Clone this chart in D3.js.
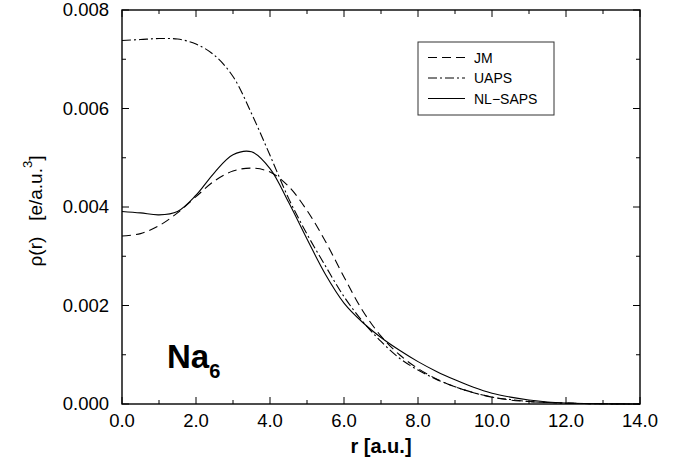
<!DOCTYPE html>
<html>
<head>
<meta charset="utf-8">
<script src="https://cdn.jsdelivr.net/npm/d3@7"></script>
<style>
  body { margin: 0; background: #fff; }
  text { font-family: "Liberation Sans", Arial, sans-serif; }
</style>
</head>
<body>
<div id="chart"></div>
<script>
// radial grid (a.u.)
const rValues = [0, 0.5, 1, 1.5, 2, 2.5, 3, 3.5, 4, 4.5, 5, 5.5, 6, 6.5, 7, 7.5, 8, 8.5, 9, 9.5, 10, 10.5, 11, 11.5, 12, 12.5, 13, 13.5, 14];
const jmValues = [0.00341, 0.00346, 0.00362, 0.00388, 0.00421, 0.00453, 0.00473, 0.00479, 0.00471, 0.00442, 0.00393, 0.00330, 0.00258, 0.00190, 0.00138, 0.00100, 0.00072, 0.00051, 0.00035, 0.00023, 0.00014, 0.00008, 0.00005, 0.00003, 0.00002, 0.00001, 0.000005, 0.000002, 0];
const uapsValues = [0.00738, 0.00740, 0.00742, 0.00741, 0.00731, 0.00708, 0.00665, 0.00590, 0.00505, 0.00418, 0.00345, 0.00280, 0.00218, 0.00168, 0.00127, 0.00093, 0.00069, 0.00050, 0.00035, 0.00023, 0.00014, 0.00009, 0.00005, 0.00003, 0.000015, 0.00001, 0.000005, 0.000002, 0];
const nlsapsValues = [0.00391, 0.00388, 0.00384, 0.00391, 0.00424, 0.00470, 0.00506, 0.00512, 0.00478, 0.00410, 0.00335, 0.00263, 0.00205, 0.00166, 0.00135, 0.00109, 0.00086, 0.00066, 0.00049, 0.00034, 0.00022, 0.00014, 0.00008, 0.00004, 0.00002, 0.00001, 0.000005, 0.000002, 0];

const seriesNames = ["JM", "UAPS", "NL\u2212SAPS"];
const xTicks = [0, 2, 4, 6, 8, 10, 12, 14];
const yTicks = [0, 0.002, 0.004, 0.006, 0.008];

const width = 675, height = 466;
const margin = { left: 122, right: 35, top: 10, bottom: 62 };

const series = [
    { name: seriesNames[0], values: jmValues, dash: "9,5" },
    { name: seriesNames[1], values: uapsValues, dash: "9,3,2,3" },
    { name: seriesNames[2], values: nlsapsValues, dash: null }
];

const svg = d3.select("#chart")
    .append("svg")
    .attr("width", width)
    .attr("height", height);

const x = d3.scaleLinear().domain([0, 14]).range([margin.left, width - margin.right]);
const y = d3.scaleLinear().domain([0, 0.008]).range([height - margin.bottom, margin.top]);

const x0 = x(0), x1 = x(14), y0 = y(0), y1 = y(0.008);

// ticks on all four sides, pointing inward
const minorX = d3.range(0, 15, 1);
const minorY = d3.range(0, 0.0081, 0.001);

const tickG = svg.append("g").attr("stroke", "#000").attr("stroke-width", 1);
minorX.forEach(v => {
    const len = v % 2 === 0 ? 7 : 4;
    tickG.append("line").attr("x1", x(v)).attr("x2", x(v)).attr("y1", y0).attr("y2", y0 - len);
    tickG.append("line").attr("x1", x(v)).attr("x2", x(v)).attr("y1", y1).attr("y2", y1 + len);
});
minorY.forEach((v, i) => {
    const len = i % 2 === 0 ? 7 : 4;
    tickG.append("line").attr("x1", x0).attr("x2", x0 + len).attr("y1", y(v)).attr("y2", y(v));
    tickG.append("line").attr("x1", x1).attr("x2", x1 - len).attr("y1", y(v)).attr("y2", y(v));
});

// frame
svg.append("rect")
    .attr("x", x0).attr("y", y1)
    .attr("width", x1 - x0).attr("height", y0 - y1)
    .attr("fill", "none")
    .attr("stroke", "#000")
    .attr("stroke-width", 1.4);

// tick labels
svg.selectAll(".xlab")
    .data(xTicks)
    .enter()
    .append("text")
    .attr("x", d => x(d))
    .attr("y", y0 + 23)
    .attr("text-anchor", "middle")
    .style("font-size", "18.5px")
    .text(d => d.toFixed(1));

svg.selectAll(".ylab")
    .data(yTicks)
    .enter()
    .append("text")
    .attr("x", x0 - 13)
    .attr("y", d => y(d) + 6)
    .attr("text-anchor", "end")
    .style("font-size", "18.5px")
    .text(d => d.toFixed(3));

// axis titles
svg.append("text")
    .attr("x", (x0 + x1) / 2)
    .attr("y", 453)
    .attr("text-anchor", "middle")
    .style("font-size", "20px")
    .style("font-weight", "bold")
    .text("r [a.u.]");

const yTitle = svg.append("text")
    .attr("transform", `translate(42, ${(y0 + y1) / 2 + 4}) rotate(-90)`)
    .attr("text-anchor", "middle")
    .style("font-size", "19px")
    .style("white-space", "pre");
yTitle.append("tspan").text("\u03c1(r)   [e/a.u.");
yTitle.append("tspan").attr("dy", -10).style("font-size", "13px").text("3");
yTitle.append("tspan").attr("dy", 10).text("]");

// curves
const line = d3.line()
    .x((d, i) => x(rValues[i]))
    .y(d => y(d))
    .curve(d3.curveCatmullRom);

svg.selectAll(".curve")
    .data(series)
    .enter()
    .append("path")
    .attr("d", d => line(d.values))
    .attr("fill", "none")
    .attr("stroke", "#000")
    .attr("stroke-width", 1.1)
    .attr("stroke-dasharray", d => d.dash);

// legend
const lg = svg.append("g");
lg.append("rect")
    .attr("x", 418).attr("y", 42)
    .attr("width", 136).attr("height", 73)
    .attr("fill", "#fff")
    .attr("stroke", "#333")
    .attr("stroke-width", 1);

series.forEach((s, i) => {
    const ly = 57.5 + i * 20.5;
    lg.append("line")
        .attr("x1", 428).attr("x2", 465)
        .attr("y1", ly).attr("y2", ly)
        .attr("stroke", "#000")
        .attr("stroke-width", 1)
        .attr("stroke-dasharray", s.dash);
    lg.append("text")
        .attr("x", 474).attr("y", ly + 5)
        .style("font-size", "14px")
        .text(s.name);
});

// cluster label
const na = svg.append("text")
    .attr("x", 167).attr("y", 368)
    .style("font-size", "33px")
    .style("font-weight", "bold");
na.append("tspan").text("Na");
na.append("tspan").attr("dy", 10).style("font-size", "20px").text("6");
</script>
</body>
</html>
